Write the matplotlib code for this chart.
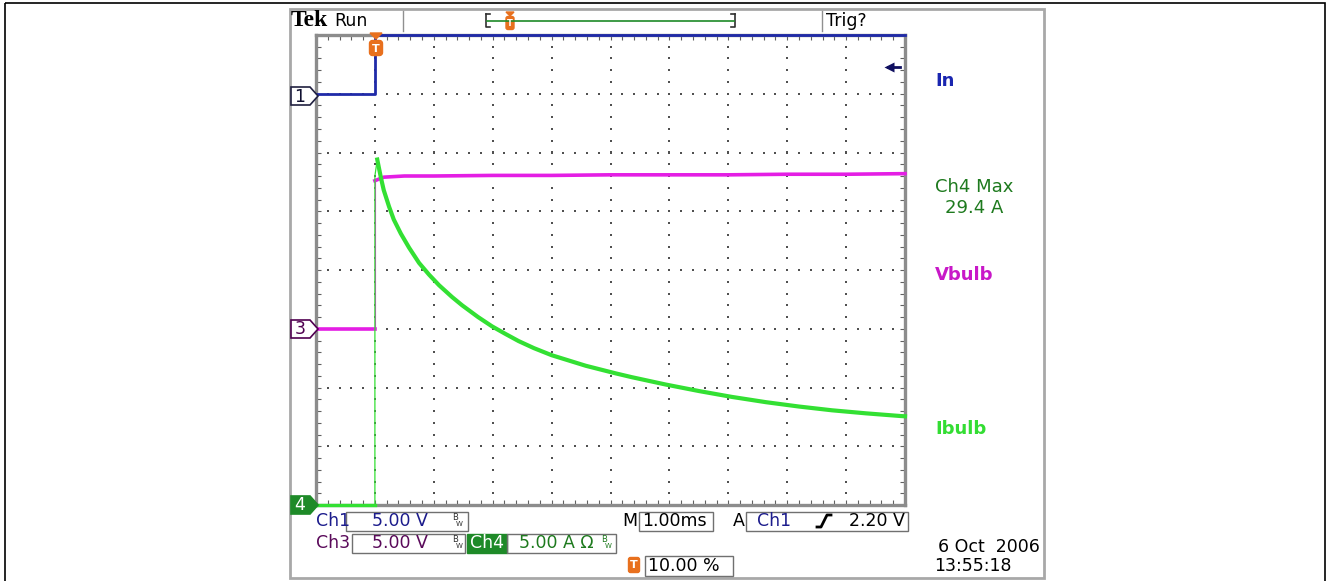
import numpy as np
from matplotlib import pyplot as plt
from matplotlib.patches import Rectangle, Polygon, FancyBboxPatch

W, H = 1329, 581

# screen: 10 div x 8 div, 1.00 ms/div, trigger at 1 div from left (t = 0)
# channel ground levels in div from bottom, scales in units/div
gnd_in, scale_in = 7.0, 5.0
gnd_vbulb, scale_vbulb = 3.0, 5.0
gnd_ibulb, scale_ibulb = 0.0, 5.0

# Ch1 "In" (V)
t_in = [-1.0, 0.0, 0.0, 9.0]
v_in = [0.0, 0.0, 5.0, 5.0]

# Ch3 "Vbulb" (V)
t_vbulb = [-1.0, 0.0, 0.0, 0.05, 0.15, 0.5, 1.0, 2.0, 3.0, 4.0, 5.0, 6.0, 7.0, 8.0, 9.0]
v_vbulb = [0.0, 0.0, 12.6, 12.7, 12.9, 13.0, 13.0, 13.05, 13.05, 13.1, 13.1, 13.1, 13.15, 13.15, 13.2]

# Ch4 "Ibulb" (A)
t_ibulb = [-1.0, 0.0, 0.0, 0.04, 0.10, 0.15, 0.24, 0.32, 0.44, 0.58, 0.75, 0.92, 1.09, 1.31,
           1.48, 1.75, 1.99, 2.22, 2.44, 2.70, 3.00, 3.58, 4.09, 4.36, 4.94, 5.50, 6.06, 6.64,
           7.20, 7.76, 8.34, 8.93, 9.0]
i_ibulb = [0.0, 0.0, 28.0, 29.4, 27.9, 26.8, 25.4, 24.3, 23.1, 21.9, 20.6, 19.6, 18.7, 17.7,
           17.0, 16.0, 15.2, 14.55, 13.95, 13.35, 12.75, 11.85, 11.2, 10.88, 10.25, 9.7, 9.2, 8.75,
           8.38, 8.06, 7.8, 7.57, 7.55]

c_in = '#1f2aa8'
c_vbulb = '#e41ee4'
c_ibulb = '#33e033'
c_orange = '#e8701e'
c_ch4 = '#1e8a28'

fig = plt.figure(figsize=(W / 100, H / 100), dpi=100)
fig.patch.set_facecolor('white')

# graticule
ax = fig.add_axes([316 / W, 1 - 505 / H, (905 - 316) / W, (505 - 35) / H])
ax.set_xlim(-1, 9)
ax.set_ylim(0, 8)
ax.set_xticks([])
ax.set_yticks([])
ax.set_xticks(np.arange(-1, 9.01, 0.2), minor=True)
ax.set_yticks(np.arange(0, 8.01, 0.2), minor=True)
ax.tick_params(which='minor', direction='in', length=3.5, width=0.8, color='#606060',
               top=True, right=True, labelbottom=False, labelleft=False)
for s in ax.spines.values():
    s.set_color('#8c8c8c')
    s.set_linewidth(2.4)

gx, gy = [], []
for k in range(1, 10):
    yy = np.arange(0.2, 7.9, 0.2)
    gx += [k - 1.0] * len(yy)
    gy += list(yy)
for j in range(1, 8):
    xx = np.arange(-0.8, 8.9, 0.2)
    gx += list(xx)
    gy += [float(j)] * len(xx)
ax.scatter(gx, gy, s=1.3, marker='s', color='#505050', linewidths=0, zorder=1)

# traces
ax.plot(t_in, [gnd_in + v / scale_in for v in v_in], color=c_in, lw=2.0, clip_on=False, zorder=3)
ax.plot(t_vbulb[:3], [gnd_vbulb + v / scale_vbulb for v in v_vbulb[:3]], color=c_vbulb, lw=0.8, zorder=3)
ax.plot(t_vbulb[:2], [gnd_vbulb + v / scale_vbulb for v in v_vbulb[:2]], color=c_vbulb, lw=2.6, zorder=3)
ax.plot(t_vbulb[2:], [gnd_vbulb + v / scale_vbulb for v in v_vbulb[2:]], color=c_vbulb, lw=2.6,
        clip_on=False, zorder=3)
ax.plot(t_ibulb[:4], [gnd_ibulb + v / scale_ibulb for v in i_ibulb[:4]], color=c_ibulb, lw=0.9, zorder=4)
ax.plot(t_ibulb[:2], [gnd_ibulb + v / scale_ibulb for v in i_ibulb[:2]], color=c_ibulb, lw=2.4,
        clip_on=False, zorder=4)
ax.plot(t_ibulb[3:], [gnd_ibulb + v / scale_ibulb for v in i_ibulb[3:]], color=c_ibulb, lw=3.0,
        clip_on=False, zorder=4, solid_joinstyle='round')

# overlay in pixel coordinates for the scope furniture
ov = fig.add_axes([0, 0, 1, 1])
ov.set_xlim(0, W)
ov.set_ylim(H, 0)
ov.set_facecolor('none')
ov.axis('off')
ov.set_zorder(5)

ov.add_patch(Rectangle((5, 3), 1320, 600, fill=False, ec='black', lw=1.2, clip_on=False))
ov.add_patch(Rectangle((290, 9), 754, 569, fill=False, ec='#a8a8a8', lw=2.0))

# top status bar
ov.text(291, 21, 'Tek', family='Liberation Serif', weight='bold', fontsize=17, va='center', ha='left')
ov.text(334, 21, 'Run', family='DejaVu Sans', fontsize=12.5, va='center', ha='left')
ov.plot([403, 403], [11, 31], color='#909090', lw=1)
ov.plot([822, 822], [11, 31], color='#909090', lw=1)
ov.text(826, 21, 'Trig?', family='DejaVu Sans', fontsize=12.5, va='center', ha='left')
ov.plot([486, 486, 490], [14, 27, 27], color='#303030', lw=1.2)
ov.plot([486, 490], [14, 14], color='#303030', lw=1.2)
ov.plot([735, 735, 731], [14, 27, 27], color='#303030', lw=1.2)
ov.plot([735, 731], [14, 14], color='#303030', lw=1.2)
ov.plot([487, 734], [20.5, 20.5], color=c_ch4, lw=1.2)
ov.add_patch(Polygon([[506, 12], [514, 12], [510, 16]], color=c_orange))
ov.add_patch(FancyBboxPatch((506.5, 17), 7, 12, boxstyle='round,pad=0.5,rounding_size=2', color=c_orange))
ov.text(510, 23.5, 'T', color='white', fontsize=6, weight='bold', ha='center', va='center')

# trigger marker on graticule
ov.add_patch(Polygon([[370, 33], [382, 33], [376, 39]], color=c_orange))
ov.add_patch(FancyBboxPatch((370, 41), 12, 14, boxstyle='round,pad=0.5,rounding_size=3', color=c_orange))
ov.text(376, 48.5, 'T', color='white', fontsize=8, weight='bold', ha='center', va='center')

# trigger level arrow
ov.plot([888, 900], [67, 67], color='#101060', lw=2)
ov.plot([889], [67], marker='<', ms=7, color='#101060', mec='none')


def chan_marker(yc, label, fc, ec, tc):
    pts = [[291, yc - 9], [310, yc - 9], [318, yc], [310, yc + 9], [291, yc + 9]]
    ov.add_patch(Polygon(pts, closed=True, fc=fc, ec=ec, lw=1.2))
    ov.text(300, yc + 0.5, label, color=tc, fontsize=12.5, ha='center', va='center', family='DejaVu Sans')


chan_marker(96, '1', 'white', '#202040', '#101030')
chan_marker(329, '3', 'white', '#500050', '#500050')
chan_marker(505, '4', c_ch4, c_ch4, 'white')

# right-hand labels
fs = 13
ov.text(935, 81, 'In', color='#1a26b0', fontsize=fs, weight='bold', va='center', ha='left')
ov.text(935, 187, 'Ch4 Max', color='#1e7a1e', fontsize=fs, va='center', ha='left')
ov.text(945, 208, '29.4 A', color='#1e7a1e', fontsize=fs, va='center', ha='left')
ov.text(935, 275, 'Vbulb', color='#c818c8', fontsize=fs, weight='bold', va='center', ha='left')
ov.text(935, 429, 'Ibulb', color='#33dd33', fontsize=fs, weight='bold', va='center', ha='left')


def box(x0, x1, y0, y1):
    ov.add_patch(Rectangle((x0, y0), x1 - x0, y1 - y0, fill=False, ec='#707070', lw=1))


def bw(x, y, c):
    ov.text(x, y - 3, 'B', color=c, fontsize=6, ha='left', va='center')
    ov.text(x + 4, y + 3, 'W', color=c, fontsize=5, ha='left', va='center')


fb = 12.5
c_ch1 = '#1c1c8c'
c_ch3 = '#5a0a5a'

# readout row 1
ov.text(316, 521, 'Ch1', color=c_ch1, fontsize=fb, va='center', ha='left')
box(346, 468, 512, 531)
ov.text(372, 521, '5.00 V', color=c_ch1, fontsize=fb, va='center', ha='left')
bw(452, 521, '#303030')
ov.text(622, 521, 'M', color='black', fontsize=fb, va='center', ha='left')
box(639, 713, 512, 531)
ov.text(642, 521, '1.00ms', color='black', fontsize=fb, va='center', ha='left')
ov.text(733, 521, 'A', color='black', fontsize=fb, va='center', ha='left')
box(746, 908, 512, 531)
ov.text(757, 521, 'Ch1', color=c_ch1, fontsize=fb, va='center', ha='left')
ov.plot([817, 821, 827, 831], [527, 527, 515, 515], color='black', lw=2)
ov.text(905, 521, '2.20 V', color='black', fontsize=fb, va='center', ha='right')

# readout row 2
ov.text(316, 543, 'Ch3', color=c_ch3, fontsize=fb, va='center', ha='left')
box(352, 465, 534, 553)
ov.text(372, 543, '5.00 V', color=c_ch3, fontsize=fb, va='center', ha='left')
bw(452, 543, '#303030')
ov.add_patch(Rectangle((467, 534), 40, 19, color=c_ch4))
ov.text(487, 543, 'Ch4', color='white', fontsize=fb, va='center', ha='center')
box(507, 616, 534, 553)
ov.text(519, 543, '5.00 A \u03a9', color='#1e7a1e', fontsize=fb, va='center', ha='left')
bw(601, 543, '#1e7a1e')

# readout row 3
ov.add_patch(FancyBboxPatch((629, 558), 10, 14, boxstyle='round,pad=0.5,rounding_size=2', color=c_orange))
ov.text(634, 565, 'T', color='white', fontsize=8, weight='bold', ha='center', va='center')
box(645, 733, 556, 576)
ov.text(648, 566, '10.00 %', color='black', fontsize=fb, va='center', ha='left')

ov.text(1040, 547, '6 Oct  2006', color='black', fontsize=fb, va='center', ha='right')
ov.text(934, 566, '13:55:18', color='black', fontsize=fb, va='center', ha='left')

fig.savefig('out.png', dpi=100, facecolor='white')
